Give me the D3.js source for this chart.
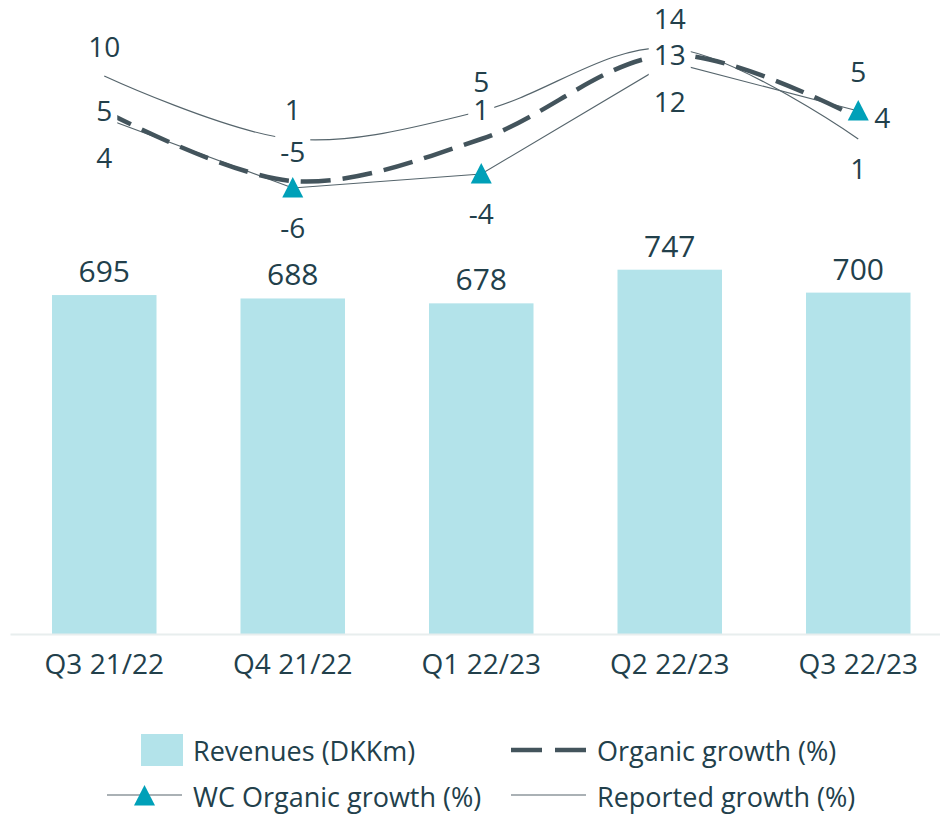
<!DOCTYPE html>
<html>
<head>
<meta charset="utf-8">
<script src="https://cdn.jsdelivr.net/npm/d3@7"></script>
<style>
  body { margin: 0; background: #fff; }
  svg { display: block; font-family: "Open Sans", sans-serif; }
</style>
</head>
<body>
<script>
// quarterly figures
var categories = ["Q3 21/22", "Q4 21/22", "Q1 22/23", "Q2 22/23", "Q3 22/23"]
var revenues = [695, 688, 678, 747, 700]
var organicGrowth = [5, -5, 1, 13, 4]
var wcOrganicGrowth = [4, -6, -4, 12, 5]
var reportedGrowth = [10, 1, 5, 14, 1]

var legendLabels = ["Revenues (DKKm)", "Organic growth (%)", "WC Organic growth (%)", "Reported growth (%)"]

// where Excel put each data label
var labelPlace = {
  reported: ["above", "above", "above", "above", "below"],
  organic: ["center", "above", "above", "center", "right"],
  wc: ["below", "below", "below", "below", "above"]
}

var width = 940, height = 815
var textColor = "#22404b"
var barColor = "#b3e3ea"
var dashColor = "#43545c"
var thinColor = "#56656c"
var markColor = "#00a0b8"

var svg = d3.select("body").append("svg")
  .attr("width", width)
  .attr("height", height)

var x = d3.scaleBand()
  .domain(categories)
  .range([10, 952.5])
  .paddingInner(0.4456)
  .paddingOuter(0.2228)

var yBar = d3.scaleLinear().domain([0, 1300]).range([634, 0])
var yLine = d3.scaleLinear().domain([-6, 14]).range([188, 48])

function cx(i) { return x(categories[i]) + x.bandwidth() / 2 }

// bars
svg.append("g")
  .selectAll("rect")
  .data(revenues)
  .enter()
  .append("rect")
  .attr("x", function(d, i) { return x(categories[i]) })
  .attr("y", function(d) { return yBar(d) })
  .attr("width", x.bandwidth())
  .attr("height", function(d) { return yBar(0) - yBar(d) })
  .attr("fill", barColor)

svg.append("g")
  .selectAll("text")
  .data(revenues)
  .enter()
  .append("text")
  .attr("x", function(d, i) { return cx(i) })
  .attr("y", function(d) { return yBar(d) - 13 })
  .attr("text-anchor", "middle")
  .attr("font-size", 30)
  .attr("fill", textColor)
  .text(function(d) { return d })

// category axis
var xAxis = d3.axisBottom(x).tickSize(0)
var gx = svg.append("g")
  .attr("transform", "translate(0," + yBar(0) + ")")
  .call(xAxis)
gx.select(".domain").attr("stroke", "#e8eeee").attr("stroke-width", 2)
gx.selectAll("text")
  .attr("y", 40)
  .attr("dy", 0)
  .attr("font-size", 28)
  .attr("font-family", "Open Sans, sans-serif")
  .attr("fill", textColor)

// growth lines
var smooth = d3.line()
  .x(function(d, i) { return cx(i) })
  .y(function(d) { return yLine(d) })
  .curve(d3.curveCatmullRom.alpha(0.5))

var straight = d3.line()
  .x(function(d, i) { return cx(i) })
  .y(function(d) { return yLine(d) })

svg.append("path").datum(reportedGrowth)
  .attr("d", smooth)
  .attr("fill", "none")
  .attr("stroke", thinColor)
  .attr("stroke-width", 1.2)

svg.append("path").datum(wcOrganicGrowth)
  .attr("d", straight)
  .attr("fill", "none")
  .attr("stroke", thinColor)
  .attr("stroke-width", 1.2)

svg.append("path").datum(organicGrowth)
  .attr("d", smooth)
  .attr("fill", "none")
  .attr("stroke", dashColor)
  .attr("stroke-width", 4.5)
  .attr("stroke-dasharray", "30,12")

function triangle(px, py) {
  return "M" + px + "," + (py - 11) + "L" + (px + 10.5) + "," + (py + 9.5) + "L" + (px - 10.5) + "," + (py + 9.5) + "Z"
}

svg.append("g")
  .selectAll("path")
  .data(wcOrganicGrowth)
  .enter()
  .append("path")
  .attr("d", function(d, i) { return triangle(cx(i), yLine(d)) })
  .attr("fill", markColor)

// data labels with white boxes (they cut the lines like in Excel)
var labels = svg.append("g")
function addLabels(values, places, marker) {
  values.forEach(function(v, i) {
    var px = cx(i), py = yLine(v), place = places[i]
    var tx = px, ty, anchor = "middle"
    if (place == "above") ty = py - 19 - (marker ? 10 : 0)
    else if (place == "below") ty = py + 40 + (marker ? 10 : 0)
    else if (place == "center") ty = py + 10
    else { tx = px + 16; ty = py + 10; anchor = "start" }
    var g = labels.append("g")
    var t = g.append("text")
      .attr("x", tx)
      .attr("y", ty)
      .attr("text-anchor", anchor)
      .attr("font-size", 28)
      .attr("fill", textColor)
      .text(v)
    var w = t.node().getComputedTextLength()
    var left = anchor == "middle" ? tx - w / 2 : tx
    g.insert("rect", "text")
      .attr("x", left - 5)
      .attr("y", ty - 26)
      .attr("width", w + 10)
      .attr("height", 37)
      .attr("fill", "#fff")
  })
}
addLabels(reportedGrowth, labelPlace.reported, false)
addLabels(organicGrowth, labelPlace.organic, false)
addLabels(wcOrganicGrowth, labelPlace.wc, true)

// legend
var lg = svg.append("g").attr("font-size", 27).attr("fill", textColor)
lg.append("rect").attr("x", 141).attr("y", 734).attr("width", 42).attr("height", 32).attr("fill", barColor)
lg.append("text").attr("x", 193).attr("y", 761).text(legendLabels[0])

lg.append("line").attr("x1", 511).attr("x2", 586).attr("y1", 750).attr("y2", 750)
  .attr("stroke", dashColor).attr("stroke-width", 4.5).attr("stroke-dasharray", "31,13")
lg.append("text").attr("x", 597).attr("y", 761).text(legendLabels[1])

lg.append("line").attr("x1", 107).attr("x2", 182).attr("y1", 795).attr("y2", 795)
  .attr("stroke", thinColor).attr("stroke-width", 1.2)
lg.append("path").attr("d", triangle(144.5, 796)).attr("fill", markColor)
lg.append("text").attr("x", 193).attr("y", 807).text(legendLabels[2])

lg.append("line").attr("x1", 511).attr("x2", 586).attr("y1", 795).attr("y2", 795)
  .attr("stroke", thinColor).attr("stroke-width", 1.2)
lg.append("text").attr("x", 597).attr("y", 807).text(legendLabels[3])
</script>
</body>
</html>
